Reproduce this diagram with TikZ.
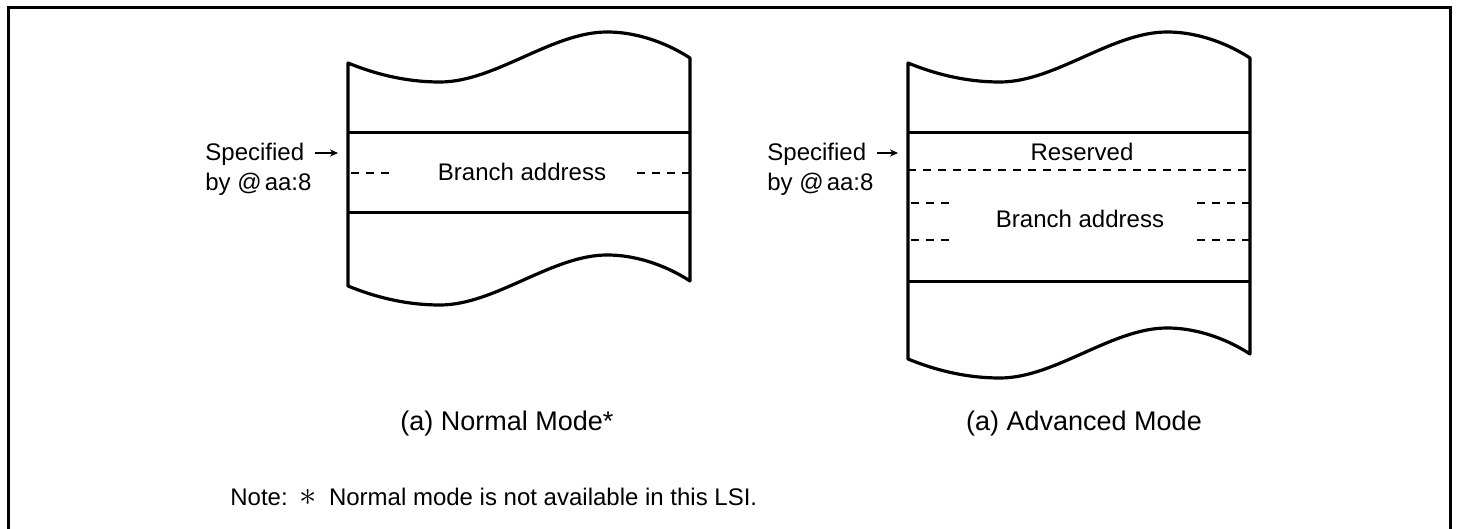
\documentclass[tikz,border=0pt]{standalone}
\usepackage{fontspec}
\setmainfont{Liberation Sans}
\usetikzlibrary{arrows.meta,calc}
\begin{document}
\begin{tikzpicture}[x=0.5pt,y=-0.5pt,
  outline/.style={line width=1.6pt, line join=round},
  divider/.style={line width=1.5pt},
  dashline/.style={line width=0.8pt, dash pattern=on 4pt off 3.5pt},
  lbl/.style={inner sep=0pt, font=\fontsize{12}{14}\selectfont},
  captxt/.style={inner sep=0pt, font=\fontsize{13.5}{16}\selectfont},
  ptr/.style={line width=0.7pt, -{Stealth[length=4pt,width=3.6pt]}},
  framebox/.style={line width=1.6pt}]
\useasboundingbox (0,0) rectangle (1458,529);
% outer frame (open at the bottom)
\draw[framebox] (8.5,540) -- (8.5,7.5) -- (1450.5,7.5) -- (1450.5,540);

% ---------------- left panel (Normal mode) ----------------
\draw[outline] (348,63) .. controls (380,76) and (410,82) .. (440,82)
  .. controls (495,82) and (552,32) .. (607,32)
  .. controls (640,32) and (670,45) .. (690,58)
  -- (690,281)
  .. controls (670,268) and (640,255) .. (607,255)
  .. controls (552,255) and (495,305) .. (440,305)
  .. controls (410,305) and (380,299) .. (348,286) -- cycle;
\draw[divider] (348,133) -- (690,133);
\draw[divider] (348,213) -- (690,213);
\draw[dashline] (351,173) -- (393,173);
\draw[dashline] (637,173) -- (690,173);
\node[lbl, anchor=base] (brA) at (522,181) {Branch address};

\node[lbl, anchor=base west] (specA) at (205,161) {Specified};
\node[lbl, anchor=base west] (byA) at (205,191) {by @\kern1.5pt aa:8};
\coordinate (tipA) at (338,153);
\draw[ptr] ($(specA.east|-tipA)+(10,0)$) -- (tipA);

\node[captxt, anchor=base] (capA) at (507,430) {(a) Normal Mode*};

% ---------------- right panel (Advanced mode) ----------------
\draw[outline] (908,63) .. controls (940,76) and (970,82) .. (1000,82)
  .. controls (1055,82) and (1112,32) .. (1167,32)
  .. controls (1200,32) and (1230,45) .. (1250,58)
  -- (1250,354)
  .. controls (1230,341) and (1200,328) .. (1167,328)
  .. controls (1112,328) and (1055,378) .. (1000,378)
  .. controls (970,378) and (940,372) .. (908,359) -- cycle;
\draw[divider] (908,133) -- (1250,133);
\draw[divider] (908,282) -- (1250,282);
\draw[dashline] (908,170) -- (1250,170);
\draw[dashline] (911,203) -- (953,203);
\draw[dashline] (1197,203) -- (1250,203);
\draw[dashline] (911,240) -- (953,240);
\draw[dashline] (1197,240) -- (1250,240);
\node[lbl, anchor=base] (resB) at (1082,161) {Reserved};
\node[lbl, anchor=base] (brB) at (1080,228) {Branch address};

\node[lbl, anchor=base west] (specB) at (767,161) {Specified};
\node[lbl, anchor=base west] (byB) at (767,191) {by @\kern1.5pt aa:8};
\coordinate (tipB) at (898,153);
\draw[ptr] ($(specB.east|-tipB)+(10,0)$) -- (tipB);

\node[captxt, anchor=base] (capB) at (1084,430) {(a) Advanced Mode};

% ---------------- note ----------------
\node[lbl, anchor=base west] (note) at (230,505)
  {Note:\hspace{6pt}{\fontsize{17}{17}\selectfont$\ast$}\hspace{6pt}Normal mode is not available in this LSI.};
\end{tikzpicture}
\end{document}
